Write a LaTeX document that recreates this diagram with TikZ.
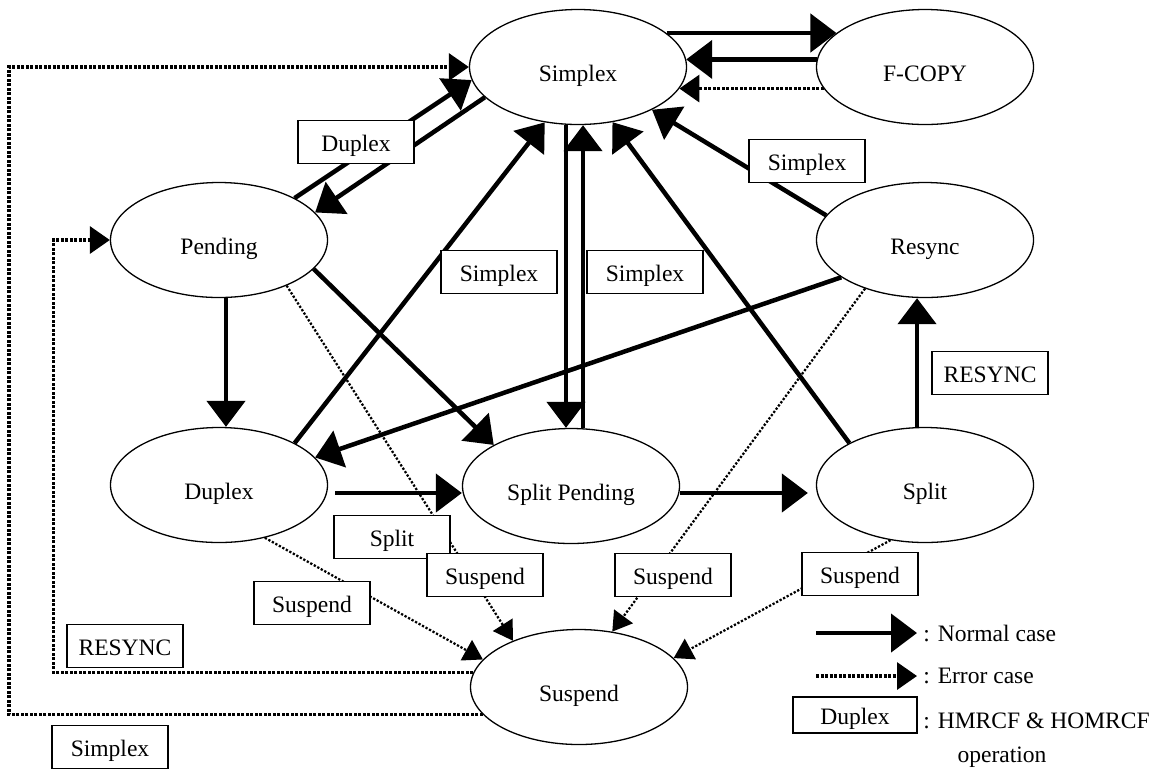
\documentclass[tikz,border=0pt]{standalone}
\usepackage{fontspec}
\setmainfont{Liberation Serif}
\usetikzlibrary{shapes.geometric,calc,arrows.meta,positioning}

\begin{document}
\begin{tikzpicture}[x=0.2mm,y=-0.2mm, every node/.style={font=\fontsize{13.4pt}{16pt}\selectfont},
    state/.style={draw, ellipse, line width=0.26mm, inner sep=0pt, text height=5.8mm, text depth=0pt, minimum width=43.4mm, minimum height=23mm},
    op/.style={draw, rectangle, fill=white, line width=0.3mm, inner sep=0pt, text height=3.6mm, text depth=0pt, minimum width=23.2mm, minimum height=8.6mm},
    normal/.style={line width=0.9mm, -{Triangle[length=5.2mm,width=7.6mm]}},
    error/.style={line width=0.65mm, dash pattern=on 0.6mm off 0.3mm, -{Triangle[length=4mm,width=5.4mm]}},
    errthin/.style={line width=0.45mm, dash pattern=on 0.45mm off 0.35mm, -{Triangle[length=3.8mm,width=4.6mm]}}]
    \useasboundingbox (0,0) rectangle (1164,771);

    \node[state] (simplex) at (578,67) {Simplex};
    \node[state] (fcopy) at (925,67) {F-COPY};
    \node[state] (pending) at (219,240) {Pending};
    \node[state] (resync) at (925,240) {Resync};
    \node[state] (duplex) at (219,485) {Duplex};
    \node[state] (splitpend) at (571,486) {Split Pending};
    \node[state] (split) at (925,485) {Split};
    \node[state] (suspend) at (579,687) {Suspend};

    \draw[normal] (simplex.21) -- (fcopy.159);
    \draw[normal] (fcopy.176) -- (simplex.4);
    \draw[error] (fcopy.-168) -- (simplex.-12);
    \draw[normal] (pending.29) -- (simplex.-173);
    \draw[normal] (simplex.-162) -- (pending.16);
    \draw[normal] (duplex.29) -- (simplex.-121);
    \draw[normal] ([shift={(-12,0)}]simplex.south) -- ([shift={(-5,0)}]splitpend.north);
    \draw[normal] ([shift={(12,0)}]splitpend.north) -- ([shift={(5,0)}]simplex.south);
    \draw[normal] (split.151) -- (simplex.-58);
    \draw[normal] (resync.166) -- (simplex.-30);
    \draw[normal] ([shift={(7,0)}]pending.south) -- ([shift={(7,0)}]duplex.north);
    \draw[normal] (pending.-17) -- (splitpend.152);
    \draw[normal] (resync.-156) -- (duplex.16);
    \draw[normal] ([shift={(7,8)}]duplex.east) -- ([shift={(0,7)}]splitpend.west);
    \draw[normal] ([shift={(0,7)}]splitpend.east) -- ([shift={(-8,8)}]split.west);
    \draw[normal] ([shift={(-8,0)}]split.north) -- ([shift={(-8,0)}]resync.south);

    \draw[errthin] (pending.-34) -- (suspend.145);
    \draw[errthin] (duplex.-49) -- (suspend.164);
    \draw[errthin] (resync.-141) -- (suspend.59);
    \draw[errthin] (split.-122) -- (suspend.17);
    \draw[error] (suspend.172) -- ++(-420,0) |- (pending.west);
    \draw[error] (suspend.196) -- ++(-474,0) |- (simplex.west);

    \node[op] (op-duplex) at (356,142) {Duplex};
    \node[op] (op-simplex1) at (499,272) {Simplex};
    \node[op] (op-simplex2) at (645,272) {Simplex};
    \node[op] (op-simplex3) at (807,161) {Simplex};
    \node[op] (op-resync1) at (990,373) {RESYNC};
    \node[op] (op-split) at (392,537) {Split};
    \node[op] (op-suspend1) at (312,603) {Suspend};
    \node[op] (op-suspend2) at (485,575) {Suspend};
    \node[op] (op-suspend3) at (673,575) {Suspend};
    \node[op] (op-suspend4) at (860,574) {Suspend};
    \node[op] (op-resync2) at (125,646) {RESYNC};
    \node[op] (op-simplex4) at (110,747) {Simplex};

    \coordinate (nrm-a) at (816,633);
    \coordinate (nrm-b) at (917,633);
    \draw[normal] (nrm-a) -- (nrm-b);
    \node[anchor=west, inner sep=0pt] (t-normal) at (923,633) {: Normal case};
    \coordinate (err-a) at (816,676);
    \coordinate (err-b) at (917,676);
    \draw[error] (err-a) -- (err-b);
    \node[anchor=west, inner sep=0pt] (t-error) at (923,676) {: Error case};
    \node[op, minimum width=24.8mm, minimum height=7.2mm] (lg-op) at (855,715) {Duplex};
    \node[anchor=west, inner sep=0pt] (t-op) at (923,721) {: HMRCF \& HOMRCF};
    \node[inner sep=0pt] (t-op2) at (1002,757) {operation};
\end{tikzpicture}
\end{document}
